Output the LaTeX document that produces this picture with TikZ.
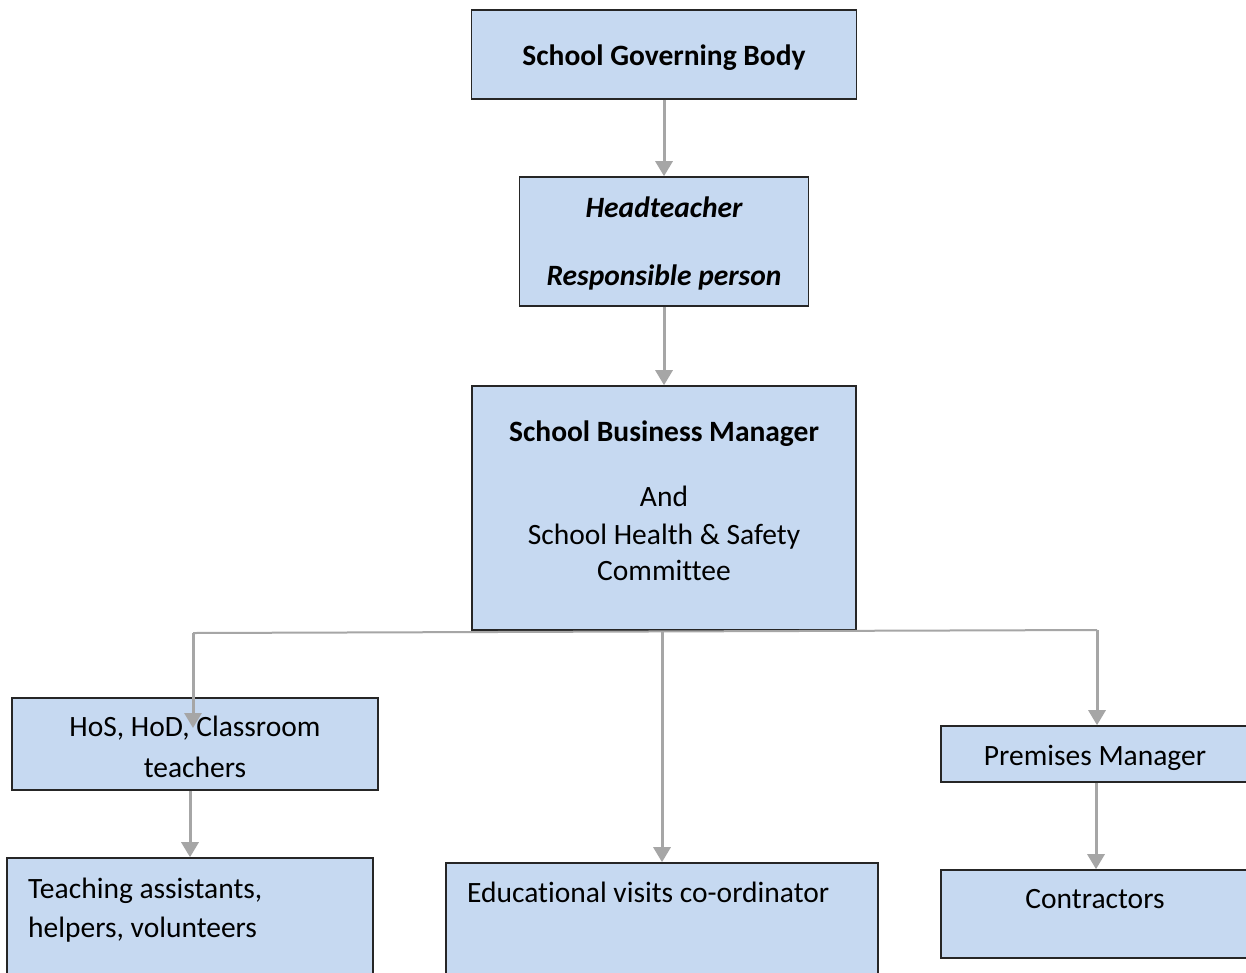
\documentclass[tikz,border=0pt]{standalone}
\usepackage{fontspec}
\setmainfont{Carlito}[Ligatures=NoCommon]
\usetikzlibrary{arrows.meta}
\definecolor{boxfill}{HTML}{C6D9F1}
\definecolor{conngray}{HTML}{A6A6A6}
\begin{document}
\begin{tikzpicture}[x=1pt,y=-1pt,
  box/.style={draw=black!85, line width=1.6pt, fill=boxfill, inner sep=0pt, minimum width=#1},
  txt/.style={anchor=base, inner sep=0pt, font=\fontsize{29.5}{34}\selectfont},
  ltxt/.style={anchor=base west, inner sep=0pt, font=\fontsize{29.5}{34}\selectfont},
  conn/.style={draw=conngray, line width=3pt, -{Triangle[width=17pt,length=15pt]}},
  busline/.style={draw=conngray, line width=2pt}]
\clip (0,0) rectangle (1246,972);
\fill[white] (0,0) rectangle (1246,972);
% boxes
\node[box=385pt, minimum height=89pt] (sgb) at (664,54.5) {};
\node[box=289pt, minimum height=129pt] (head) at (664,241.5) {};
\node[box=384pt, minimum height=244pt] (sbm) at (664,508) {};
\node[box=366pt, minimum height=92pt] (hos) at (195,744) {};
\node[box=366pt, minimum height=130pt] (ta) at (190,923) {};
\node[box=432pt, minimum height=126pt] (ed) at (662,926) {};
\node[box=310pt, minimum height=56pt] (pm) at (1096,754) {};
\node[box=310pt, minimum height=88pt] (con) at (1096,914) {};
% texts
\node[txt, font=\fontsize{29.5}{34}\selectfont\bfseries] (tsgb) at (664,65) {School Governing Body};
\node[txt, font=\fontsize{29.5}{34}\selectfont\bfseries\itshape] (th1) at (664,217) {Headteacher};
\node[txt, font=\fontsize{29.5}{34}\selectfont\bfseries\itshape] (th2) at (664,285) {Responsible person};
\node[txt, font=\fontsize{29.5}{34}\selectfont\bfseries] (ts1) at (664,441) {School Business Manager};
\node[txt] (ts2) at (664,506) {And};
\node[txt] (ts3) at (664,544) {School Health \& Safety};
\node[txt] (ts4) at (664,580) {Committee};
\node[txt] (thos1) at (195,736) {HoS, HoD, Classroom};
\node[txt] (thos2) at (195,777) {teachers};
\node[ltxt] (tta1) at (28,898) {Teaching assistants,};
\node[ltxt] (tta2) at (28,937) {helpers, volunteers};
\node[ltxt] (ted) at (467,902) {Educational visits co-ordinator};
\node[txt] (tpm) at (1095,765) {Premises Manager};
\node[txt] (tcon) at (1095,908) {Contractors};
% connectors
\draw[conn] (sgb.south) -- (head.north);
\draw[conn] (head.south) -- (sbm.north);
\coordinate (busL) at (193,633);
\coordinate (busR) at (1097,630);
\coordinate (hosin) at (193,728);
\draw[busline] (busL) -- (busR);
\draw[conn] (busL) -- (hosin);
\draw[conn] (busR) -- (busR |- pm.north);
\draw[conn] (sbm.south -| ed.north) -- (ed.north);
\draw[conn] (hos.south -| ta.north) -- (ta.north);
\draw[conn] (pm.south) -- (con.north);
\end{tikzpicture}
\end{document}
